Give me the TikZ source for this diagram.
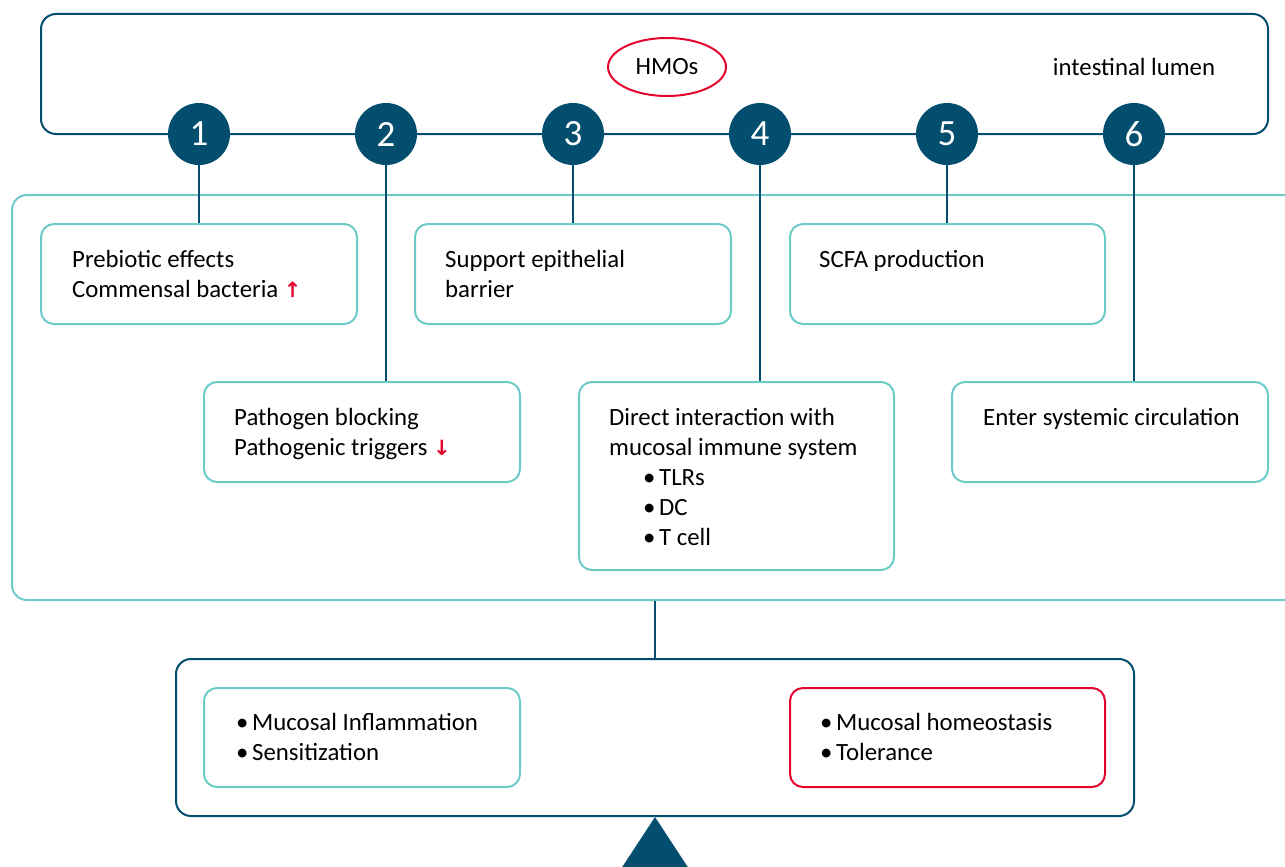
\documentclass[tikz,border=0pt]{standalone}
\usepackage{fontspec}
\usetikzlibrary{shapes.geometric}
\setmainfont{Carlito}
\newfontfamily\arrowfont{DejaVu Sans}
\definecolor{dblue}{HTML}{034E6E}
\definecolor{teal}{HTML}{6CCBC7}
\definecolor{hred}{HTML}{E4032E}
\tikzset{
  lbox/.style={draw=dblue, line width=2pt, rounded corners=15pt, inner sep=0pt},
  tbox/.style={draw=teal, line width=2pt, rounded corners=13pt, inner sep=0pt},
  rbox/.style={draw=hred, line width=2pt, rounded corners=13pt, inner sep=0pt},
  num/.style={circle, fill=dblue, minimum size=62pt, inner sep=0pt, text=white, font=\fontsize{37}{37}\selectfont},
  conn/.style={draw=dblue, line width=2pt},
  txt/.style={inner sep=0pt, anchor=north west, align=left, font=\fontsize{24.8}{30}\selectfont}
}
\newcommand{\redup}{{\color{hred}\arrowfont\bfseries\fontsize{21}{21}\selectfont ↑}}
\newcommand{\reddown}{{\color{hred}\arrowfont\bfseries\fontsize{21}{21}\selectfont ↓}}
\newcommand{\bul}[1]{\makebox[16pt][l]{•}#1}
\begin{document}
\begin{tikzpicture}[x=1pt,y=-1pt]
\useasboundingbox (0,0) rectangle (1285,867);
\clip (0,0) rectangle (1285,867);
% top lumen box
\node[lbox, minimum width=1227pt, minimum height=120pt] (lumen) at (654.5,74) {};
\node[ellipse, draw=hred, line width=2pt, minimum width=118pt, minimum height=58pt, inner sep=0pt, font=\fontsize{24.8}{30}\selectfont] (hmo) at (667,67) {HMOs};
\node[inner sep=0pt, font=\fontsize{24.8}{30}\selectfont] (lum) at (1134,67) {intestinal lumen};
% big teal box
\node[tbox, rounded corners=15pt, minimum width=1300pt, minimum height=405pt] (big) at (662,397.5) {};
% inner boxes
\node[tbox, minimum width=316pt, minimum height=100pt] (b1) at (199,274) {};
\node[tbox, minimum width=316pt, minimum height=100pt] (b3) at (573,274) {};
\node[tbox, minimum width=315pt, minimum height=100pt] (b5) at (947.5,274) {};
\node[tbox, minimum width=316pt, minimum height=100pt] (b2) at (362,432) {};
\node[tbox, minimum width=315pt, minimum height=188pt] (b4) at (736.5,476) {};
\node[tbox, minimum width=316pt, minimum height=100pt] (b6) at (1110,432) {};
% texts
\node[txt] (t1) at (72,250) {Prebiotic effects\\Commensal bacteria \redup};
\node[txt] (t3) at (445,250) {Support epithelial\\barrier};
\node[txt] (t5) at (819,250) {SCFA production};
\node[txt] (t2) at (234,408) {Pathogen blocking\\Pathogenic triggers \reddown};
\node[txt] (t4) at (609,408) {Direct interaction with\\mucosal immune system\\\hspace*{34pt}\bul{TLRs}\\\hspace*{34pt}\bul{DC}\\\hspace*{34pt}\bul{T cell}};
\node[txt] (t6) at (983,408) {Enter systemic circulation};
% circles
\foreach \i/\x in {1/199,2/386,3/573,4/760,5/947,6/1134}{
  \node[num] (c\i) at (\x,134) {\i};
}
% connectors
\draw[conn] (c1.south) -- (b1.north);
\draw[conn] (c2.south) -- (c2.south |- b2.north);
\draw[conn] (c3.south) -- (b3.north);
\draw[conn] (c4.south) -- (c4.south |- b4.north);
\draw[conn] (c5.south) -- (c5.south |- b5.north);
\draw[conn] (c6.south) -- (c6.south |- b6.north);
% bottom
\node[lbox, minimum width=958pt, minimum height=157pt] (bot) at (655,737.5) {};
\draw[conn] (bot.north |- big.south) -- (bot.north);
\node[tbox, minimum width=316pt, minimum height=99pt] (bl) at (362,737.5) {};
\node[rbox, minimum width=315pt, minimum height=99pt] (br) at (947.5,737.5) {};
\node[txt] (tl) at (236,713) {\bul{Mucosal Inflammation}\\\bul{Sensitization}};
\node[txt] (tr) at (820,713) {\bul{Mucosal homeostasis}\\\bul{Tolerance}};
\coordinate (apex) at (bot.south);
\fill[dblue] (apex) -- ++(-38,58) -- ++(76,0) -- cycle;
\end{tikzpicture}
\end{document}
